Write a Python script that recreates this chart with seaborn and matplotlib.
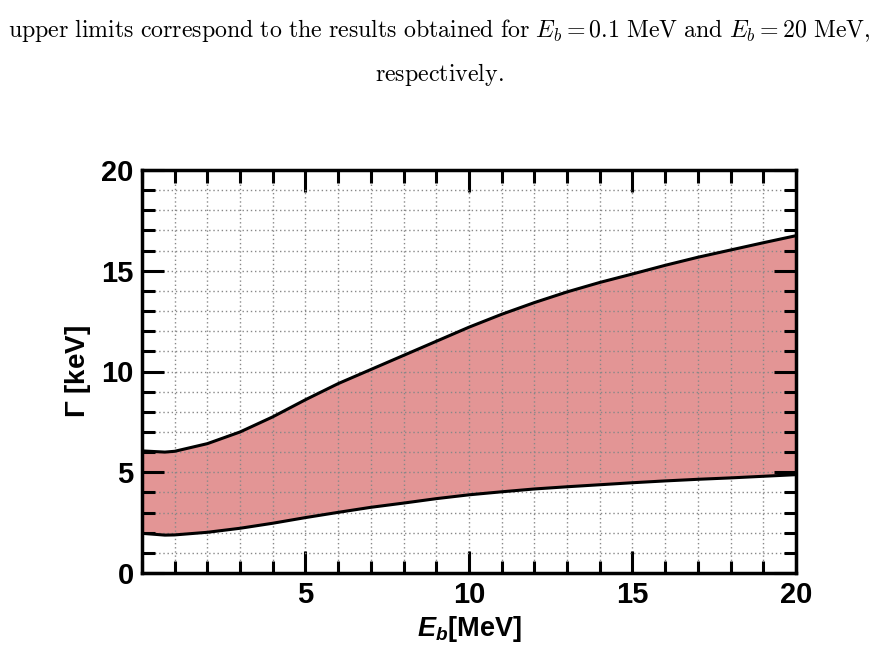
import numpy as np
import pandas as pd
import matplotlib
matplotlib.use("Agg")
import matplotlib.pyplot as plt
import seaborn as sns
from matplotlib.ticker import MultipleLocator

# data
eb = [0.0, 0.7, 1, 2, 3, 4, 5, 6, 7, 8, 9, 10, 11, 12, 13, 14, 15, 16, 17, 18, 19, 20]
gamma_upper = [6.06, 6.0, 6.04, 6.42, 7.0, 7.75, 8.6, 9.4, 10.1, 10.8, 11.5, 12.2, 12.84,
               13.42, 13.95, 14.42, 14.84, 15.27, 15.67, 16.03, 16.39, 16.74]
gamma_lower = [1.97, 1.88, 1.89, 2.02, 2.22, 2.47, 2.75, 3.01, 3.26, 3.47, 3.69, 3.88, 4.03,
               4.17, 4.28, 4.38, 4.48, 4.57, 4.65, 4.72, 4.8, 4.88]
xticks = [5, 10, 15, 20]
yticks = [0, 5, 10, 15, 20]

sns.set_theme(style="ticks")
plt.rcParams["font.family"] = ["Liberation Sans", "DejaVu Sans"]
plt.rcParams["mathtext.fontset"] = "custom"
plt.rcParams["mathtext.it"] = "Liberation Sans:italic:bold"
plt.rcParams["mathtext.rm"] = "Liberation Sans:bold"
plt.rcParams["mathtext.bf"] = "Liberation Sans:bold"
for k in ["text.color", "axes.labelcolor", "xtick.color", "ytick.color",
          "xtick.labelcolor", "ytick.labelcolor"]:
    plt.rcParams[k] = "black"

df = pd.DataFrame({"Eb": eb, "up": gamma_upper, "lo": gamma_lower})

fig = plt.figure(figsize=(8.79, 6.54), dpi=100)
ax = fig.add_axes([142 / 879, 1 - 573 / 654, (796 - 142) / 879, (573 - 170) / 654])

ax.fill_between(df["Eb"], df["lo"], df["up"], color="#E39595", lw=0, zorder=1)
sns.lineplot(data=df, x="Eb", y="up", ax=ax, color="black", lw=2.2, zorder=3)
sns.lineplot(data=df, x="Eb", y="lo", ax=ax, color="black", lw=2.2, zorder=3)

ax.set_xlim(0, 20)
ax.set_ylim(0, 20)
ax.xaxis.set_minor_locator(MultipleLocator(1))
ax.yaxis.set_minor_locator(MultipleLocator(1))
ax.set_xticks(xticks)
ax.set_yticks(yticks)
ax.grid(which="both", color="#888888", linestyle=(0, (1, 2)), linewidth=1.0, zorder=2)
ax.set_axisbelow(False)
for s in ax.spines.values():
    s.set_linewidth(2.5)
    s.set_color("black")
    s.set_zorder(5)
ax.tick_params(which="both", direction="in", top=True, right=True, width=2.2, color="black",
               labelsize=21, pad=6, labelcolor="black")
ax.tick_params(which="major", length=16)
ax.tick_params(which="minor", length=9)
for lab in ax.get_xticklabels() + ax.get_yticklabels():
    lab.set_fontweight("bold")

ax.set_xlabel(r"$\mathit{E_b}$[MeV]", fontsize=19.5, fontweight="bold", labelpad=3, color="black")
ax.set_ylabel(r"$\Gamma$ [keV]", fontsize=20, fontweight="bold", labelpad=6, color="black")

cap1 = (r"$\mathrm{upper\ limits\ correspond\ to\ the\ results\ obtained\ for\ }"
        r"E_b = 0.1\ \mathrm{MeV\ and\ }E_b = 20\ \mathrm{MeV,}$")
cap2 = r"$\mathrm{respectively.}$"
with plt.rc_context({"mathtext.fontset": "cm"}):
    fig.text(0.5, 1 - 30 / 654, cap1, ha="center", va="center", fontsize=17.2, color="black")
    fig.text(0.5, 1 - 75 / 654, cap2, ha="center", va="center", fontsize=17.2, color="black")

fig.savefig("out.png", dpi=100)
